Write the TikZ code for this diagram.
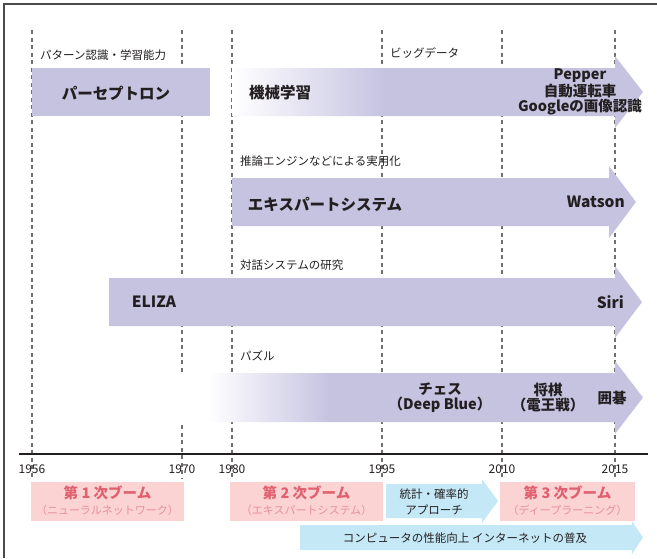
\documentclass[tikz,border=0pt]{standalone}
\usepackage{fontspec}
\setmainfont{Noto Sans CJK JP}
\definecolor{barpurple}{HTML}{C6C3E1}
\definecolor{lightblue}{HTML}{C5E8F7}
\definecolor{boompink}{HTML}{FBD3D3}
\definecolor{boomred}{HTML}{E0606F}
\definecolor{boomsubc}{HTML}{E8909A}
\definecolor{guidegray}{HTML}{707070}
\definecolor{textdark}{HTML}{231F20}
\definecolor{framegray}{HTML}{4A4A4A}
\pgfdeclarehorizontalshading{mlshade}{100bp}{color(0bp)=(white); color(25bp)=(white); color(43.6bp)=(barpurple); color(100bp)=(barpurple)}
\pgfdeclarehorizontalshading{puzshade}{100bp}{color(0bp)=(white); color(25bp)=(white); color(39bp)=(barpurple); color(100bp)=(barpurple)}
\begin{document}
\begin{tikzpicture}[x=1pt,y=-1pt,
  bar/.style={fill=barpurple, draw=none},
  bluebar/.style={fill=lightblue, draw=none},
  boombox/.style={fill=boompink, draw=none},
  guide/.style={draw=guidegray, line width=1.1pt, dash pattern=on 4pt off 3.5pt},
  rowlabel/.style={font=\fontsize{11.5}{13}\selectfont, text=textdark, anchor=west, inner sep=0pt},
  bigtext/.style={font=\fontsize{15.5}{17}\selectfont\bfseries, text=textdark, inner sep=0pt},
  midtext/.style={font=\fontsize{14.5}{15}\selectfont\bfseries, text=textdark, inner sep=0pt, align=center},
  year/.style={font=\fontsize{12}{14}\selectfont, text=textdark, inner sep=0pt},
  boomtitle/.style={font=\fontsize{14.5}{16}\selectfont\bfseries, text=boomred, inner sep=0pt},
  boomsub/.style={font=\fontsize{11}{13}\selectfont, text=boomsubc, inner sep=0pt},
  bluetext/.style={font=\fontsize{11.5}{16}\selectfont, text=textdark, inner sep=0pt, align=center}
]
\useasboundingbox (0,0) rectangle (657,558);
\fill[white] (0,0) rectangle (657,558);

% frame
\draw[framegray, line width=1.5pt] (657,4) -- (4,4) -- (4,558);

% dashed guide lines
\draw[guide] (32,30) -- (32,478);
\draw[guide] (182,30) -- (182,372);
\draw[guide] (182,425) -- (182,478);
\draw[guide] (232,30) -- (232,478);
\draw[guide] (382,30) -- (382,478);
\draw[guide] (502,30) -- (502,478);
\draw[guide] (615,30) -- (615,478);

% axis
\draw[textdark, line width=1.3pt] (19,454) -- (648,454);

% row 1
\fill[bar] (32,68) rectangle (210,116);
\shade[shading=mlshade] (232,68) -- (615,68) -- (615,56) -- (643,92) -- (615,128) -- (615,116) -- (232,116) -- cycle;

% row 2
\fill[bar] (232,178) -- (609,178) -- (609,166) -- (636,202) -- (609,238) -- (609,226) -- (232,226) -- cycle;

% row 3
\fill[bar] (109,278) -- (615,278) -- (615,266) -- (642,302) -- (615,338) -- (615,326) -- (109,326) -- cycle;

% row 4
\shade[shading=puzshade] (208,373) -- (615,373) -- (615,361) -- (643,397.5) -- (615,434) -- (615,422) -- (208,422) -- cycle;

% boom boxes
\fill[boombox] (31,482) rectangle (184,521);
\fill[boombox] (230,482) rectangle (383,521);
\fill[boombox] (500,482) rectangle (635,521);

% blue arrows
\fill[bluebar] (386,484) -- (482,484) -- (482,479) -- (498,501) -- (482,523) -- (482,518) -- (386,518) -- cycle;
\fill[bluebar] (300,525) -- (632,525) -- (632,521) -- (643,537.5) -- (632,554) -- (632,550) -- (300,550) -- cycle;

% row labels
\node[rowlabel] (l1) at (40,55) {パターン認識・学習能力};
\node[rowlabel] (l2) at (390,53) {ビッグデータ};
\node[rowlabel] (l3) at (240,161) {推論エンジンなどによる実用化};
\node[rowlabel] (l4) at (240,265) {対話システムの研究};
\node[rowlabel] (l5) at (240,356) {パズル};

% bar texts
\node[bigtext] (perc) at (116,93) {パーセプトロン};
\node[bigtext] (ml) at (280,93) {機械学習};
\node[midtext] (pep) at (580,92) {Pepper\\自動運転車\\Googleの画像認識};
\node[bigtext] (exp) at (325,204) {エキスパートシステム};
\node[bigtext, anchor=east] (wat) at (625,202) {Watson};
\node[bigtext] (eliza) at (154,302) {ELIZA};
\node[bigtext, anchor=east] (siri) at (624,302) {Siri};
\node[midtext] (chess) at (440,398) {チェス\\（Deep Blue）};
\node[midtext] (shogi) at (548,398) {将棋\\（電王戦）};
\node[midtext] (go) at (612,398) {囲碁};

% years
\node[year] (y1) at (32,469) {1956};
\node[year] (y2) at (182,469) {1970};
\node[year] (y3) at (232,469) {1980};
\node[year] (y4) at (382,469) {1995};
\node[year] (y5) at (502,469) {2010};
\node[year] (y6) at (615,469) {2015};

% booms
\node[boomtitle] (b1) at (107.5,493) {第 1 次ブーム};
\node[boomsub] (b1s) at (107.5,510) {（ニューラルネットワーク）};
\node[boomtitle] (b2) at (306.5,493) {第 2 次ブーム};
\node[boomsub] (b2s) at (306.5,510) {（エキスパートシステム）};
\node[boomtitle] (b3) at (567.5,493) {第 3 次ブーム};
\node[boomsub] (b3s) at (567.5,510) {（ディープラーニング）};

% blue texts
\node[bluetext] (stat) at (434,502) {統計・確率的\\アプローチ};
\node[bluetext] (comp) at (465,538) {コンピュータの性能向上 インターネットの普及};
\end{tikzpicture}
\end{document}
